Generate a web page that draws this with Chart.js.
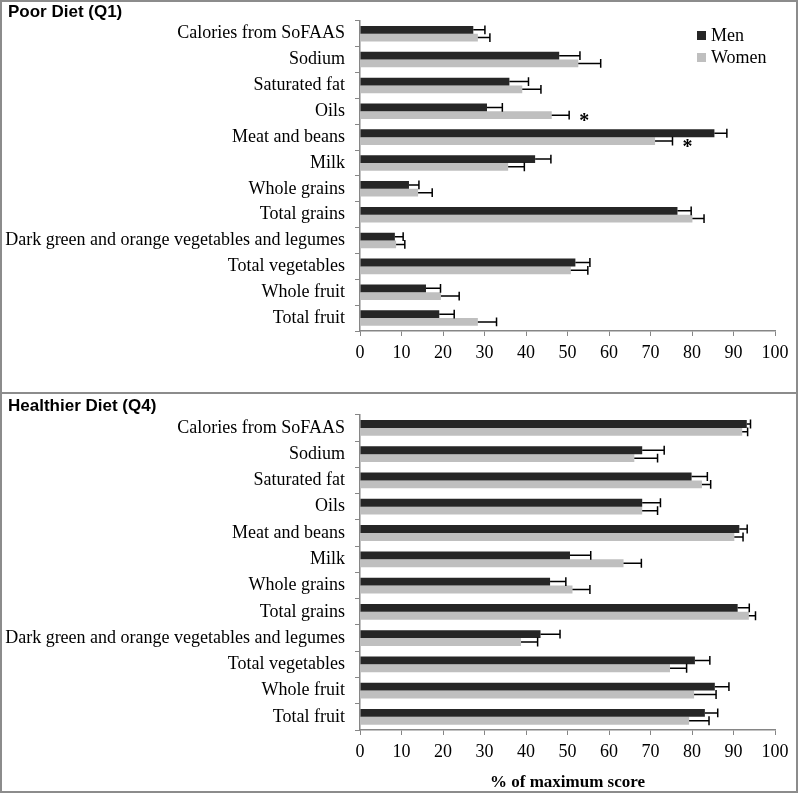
<!DOCTYPE html>
<html>
<head>
<meta charset="utf-8">
<script src="https://cdn.jsdelivr.net/npm/chart.js@4"></script>
<style>
  body { margin: 0; background: #fff; }
  #page { position: relative; width: 800px; height: 793px; overflow: hidden; }
  #frame { position: absolute; left: 0; top: 0; width: 798px; height: 793px; box-sizing: border-box; border: 2px solid #8c8c8c; }
  #sep { position: absolute; left: 0; top: 392px; width: 798px; height: 2px; background: #8c8c8c; }
  .box { position: absolute; left: 0; width: 800px; }
  .title { position: absolute; left: 8px; font: bold 17px "Liberation Sans", Arial, sans-serif; line-height: 20px; }
  #legend { position: absolute; left: 697px; top: 24px; font: 18px "Liberation Serif", "Times New Roman", serif; }
  #legend div { height: 22px; line-height: 22px; }
  #legend span { display: inline-block; width: 9px; height: 9px; margin-right: 5px; vertical-align: 1px; }
</style>
</head>
<body>
<div id="page">
  <div class="box" style="top:0;height:394px"><canvas id="q1" width="800" height="394"></canvas></div>
  <div class="box" style="top:394px;height:399px"><canvas id="q4" width="800" height="399"></canvas></div>
  <div id="frame"></div>
  <div id="sep"></div>
  <div class="title" style="top:2px">Poor Diet (Q1)</div>
  <div class="title" style="top:396px">Healthier Diet (Q4)</div>
  <div id="legend"></div>
</div>
<script>
var categories = ["Calories from SoFAAS", "Sodium", "Saturated fat", "Oils", "Meat and beans", "Milk",
  "Whole grains", "Total grains", "Dark green and orange vegetables and legumes", "Total vegetables",
  "Whole fruit", "Total fruit"];
var seriesNames = ["Men", "Women"];
var seriesColors = ["#262626", "#bfbfbf"];

// Poor diet (Q1): mean % of max score and error (SE)
var menQ1 = [27.3, 48.0, 36.0, 30.6, 85.4, 42.2, 11.8, 76.5, 8.4, 51.9, 15.9, 19.1];
var womenQ1 = [28.4, 52.6, 39.1, 46.2, 71.1, 35.7, 14.0, 80.1, 8.7, 50.8, 19.5, 28.4];
var menQ1Err = [2.8, 5.0, 4.6, 3.7, 3.0, 3.8, 2.4, 3.3, 2.0, 3.5, 3.5, 3.6];
var womenQ1Err = [2.9, 5.4, 4.5, 4.2, 4.2, 3.9, 3.4, 2.8, 2.1, 4.1, 4.4, 4.5];
var sigQ1 = ["", "", "", "*", "*", "", "", "", "", "", "", ""];

// Healthier diet (Q4)
var menQ4 = [93.2, 68.0, 79.9, 68.0, 91.4, 50.6, 45.8, 91.0, 43.5, 80.7, 85.5, 83.1];
var womenQ4 = [92.1, 66.1, 82.4, 68.0, 90.2, 63.5, 51.2, 93.7, 38.8, 74.7, 80.5, 79.3];
var menQ4Err = [0.9, 5.3, 3.8, 4.4, 1.9, 5.0, 3.8, 2.8, 4.7, 3.6, 3.4, 3.1];
var womenQ4Err = [1.3, 5.6, 2.1, 3.7, 2.1, 4.3, 4.2, 1.6, 4.0, 4.0, 5.3, 4.8];
var sigQ4 = ["", "", "", "", "", "", "", "", "", "", "", ""];

var xMin = 0, xMax = 100, xStep = 10;
var axisTitle = "% of maximum score";

Chart.defaults.font.family = "'Liberation Serif', 'Times New Roman', serif";
Chart.defaults.font.size = 18;
Chart.defaults.color = "#000";

// error bars + significance marks
var errorBars = {
  id: "errorBars",
  afterDatasetsDraw: function (chart, args, opts) {
    var ctx = chart.ctx;
    var xs = chart.scales.x;
    ctx.save();
    ctx.strokeStyle = "#000";
    ctx.lineWidth = 1.5;
    chart.data.datasets.forEach(function (ds, i) {
      var meta = chart.getDatasetMeta(i);
      meta.data.forEach(function (bar, j) {
        var x1 = xs.getPixelForValue(ds.data[j] + ds.errors[j]);
        var h = bar.height / 2 + 0.5;
        ctx.beginPath();
        ctx.moveTo(bar.x, bar.y);
        ctx.lineTo(x1, bar.y);
        ctx.moveTo(x1, bar.y - h);
        ctx.lineTo(x1, bar.y + h);
        ctx.stroke();
        if (i == 1 && opts.marks && opts.marks[j]) {
          ctx.fillStyle = "#000";
          ctx.font = "bold 20px 'Liberation Serif', serif";
          ctx.textAlign = "center";
          ctx.textBaseline = "middle";
          ctx.fillText(opts.marks[j], x1 + 15, bar.y + 7);
        }
      });
    });
    ctx.restore();
  }
};

function makeChart(id, men, women, menErr, womenErr, marks, showTitle) {
  return new Chart(id, {
    type: "bar",
    data: {
      labels: categories,
      datasets: [
        { label: seriesNames[0], data: men, errors: menErr, backgroundColor: seriesColors[0] },
        { label: seriesNames[1], data: women, errors: womenErr, backgroundColor: seriesColors[1] },
      ],
    },
    options: {
      indexAxis: "y",
      responsive: false,
      animation: false,
      categoryPercentage: 0.6,
      barPercentage: 1,
      layout: { padding: { top: 20, right: 25, left: 0, bottom: 0 } },
      plugins: {
        legend: { display: false },
        tooltip: { enabled: false },
        errorBars: { marks: marks },
      },
      scales: {
        x: {
          min: xMin,
          max: xMax,
          ticks: { stepSize: xStep, padding: 6 },
          grid: { drawOnChartArea: false, color: "#868686", tickLength: 5 },
          border: { color: "#868686", width: 1.5 },
          title: {
            display: showTitle,
            text: axisTitle,
            font: { size: 17, weight: "bold", lineHeight: 1.2 },
            padding: { top: 0, bottom: 0 },
          },
          afterFit: function (scale) { scale.height = 63; },
        },
        y: {
          ticks: { padding: 10, autoSkip: false },
          grid: { drawOnChartArea: false, color: "#868686", tickLength: 5 },
          border: { color: "#868686", width: 1.5 },
          afterFit: function (scale) { scale.width = 360; },
        },
      },
    },
    plugins: [errorBars],
  });
}

makeChart("q1", menQ1, womenQ1, menQ1Err, womenQ1Err, sigQ1, false);
makeChart("q4", menQ4, womenQ4, menQ4Err, womenQ4Err, sigQ4, true);

// legend
var legend = document.getElementById("legend");
seriesNames.forEach(function (name, i) {
  var row = document.createElement("div");
  var sw = document.createElement("span");
  sw.style.background = seriesColors[i];
  row.appendChild(sw);
  row.appendChild(document.createTextNode(name));
  legend.appendChild(row);
});
</script>
</body>
</html>
